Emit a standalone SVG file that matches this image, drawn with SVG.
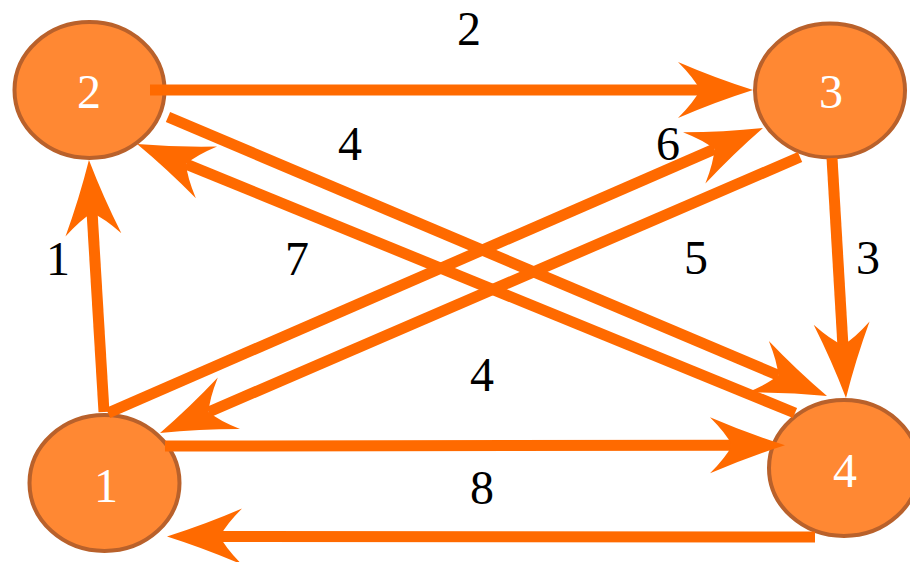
<svg xmlns="http://www.w3.org/2000/svg" width="910" height="562" viewBox="0 0 910 562">
<style>
.node ellipse{fill:#FF8833;stroke:#B9612B;stroke-width:4}
.node text{fill:#FFFFFF;font-family:"Liberation Serif","DejaVu Serif",serif;font-size:48px;text-anchor:middle}
.edge{stroke:#FF6A00;stroke-width:11;fill:none;marker-end:url(#arr)}
.lbl{fill:#000000;font-family:"Liberation Serif","DejaVu Serif",serif;font-size:48px;text-anchor:middle}
</style>
<defs>
<marker id="arr" markerUnits="userSpaceOnUse" orient="auto" refX="0" refY="0" markerWidth="80" markerHeight="60" viewBox="-25 -30 80 60" overflow="visible">
<path d="M53,0 Q15,-12 -22,-28 Q-6,-12 0,0 Q-6,12 -22,28 Q15,12 53,0 Z" fill="#FF6A00"/>
</marker>
</defs>
<g id="node-2" class="node"><ellipse cx="89.5" cy="90" rx="75" ry="68"/><text x="89" y="108">2</text></g>
<g id="node-3" class="node"><ellipse cx="830" cy="90.5" rx="75" ry="67"/><text x="831" y="108">3</text></g>
<g id="node-1" class="node"><ellipse cx="104.5" cy="483" rx="75" ry="68"/><text x="106" y="502">1</text></g>
<g id="node-4" class="node"><ellipse cx="844" cy="468" rx="75" ry="68"/><text x="845" y="487">4</text></g>
<g id="connectors">
<line class="edge" x1="150" y1="90" x2="700" y2="90"/>
<line class="edge" x1="104" y1="412" x2="92.1" y2="212.9"/>
<line class="edge" x1="832" y1="158" x2="842.9" y2="345.1"/>
<line class="edge" x1="165" y1="446" x2="732" y2="445.3"/>
<line class="edge" x1="815" y1="537" x2="220" y2="536.5"/>
<line class="edge" x1="168" y1="117" x2="778.2" y2="375.3"/>
<line class="edge" x1="795" y1="413" x2="186.1" y2="164.1"/>
<line class="edge" x1="108" y1="413" x2="714.4" y2="149.1"/>
<line class="edge" x1="800" y1="157" x2="208.7" y2="412"/>
</g>
<g id="labels">
<text class="lbl" x="469" y="45">2</text>
<text class="lbl" x="350" y="160">4</text>
<text class="lbl" x="668" y="160">6</text>
<text class="lbl" x="58" y="275">1</text>
<text class="lbl" x="297" y="275">7</text>
<text class="lbl" x="696" y="274">5</text>
<text class="lbl" x="868" y="274">3</text>
<text class="lbl" x="482" y="391">4</text>
<text class="lbl" x="482" y="504">8</text>
</g>
</svg>
